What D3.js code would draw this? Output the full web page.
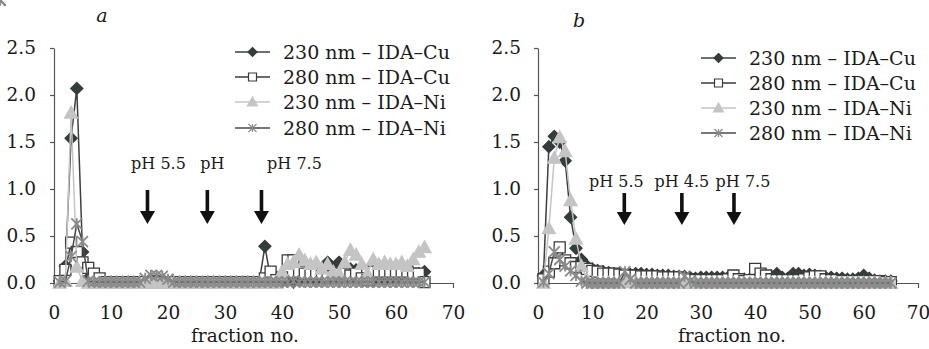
<!DOCTYPE html>
<html>
<head>
<meta charset="utf-8">
<script src="https://cdn.jsdelivr.net/npm/d3@7"></script>
<style>
  body { margin: 0; background: #fff; }
  svg text { font-family: "DejaVu Serif", serif; fill: #1a1a1a; }
</style>
</head>
<body>
<svg id="chart" width="929" height="349"></svg>
<script>
// fraction numbers 1..65 (same for both panels)
const fractions = [1,2,3,4,5,6,7,8,9,10,11,12,13,14,15,16,17,18,19,20,21,22,23,24,25,26,27,28,29,30,31,32,33,34,35,36,37,38,39,40,41,42,43,44,45,46,47,48,49,50,51,52,53,54,55,56,57,58,59,60,61,62,63,64,65];

// panel a
const aCu230 = [0.02,0.18,1.54,2.07,0.33,0.05,
  0.01,0.01,0.01,0.01,0.01,0.01,0.01,0.01,0.01,0.01,0.01,0.01,0.01,0.01,0.01,0.01,0.01,0.01,0.01,0.01,0.01,0.01,0.01,0.01,0.01,0.01,0.01,0.01,0.01,0.01,
  0.39,0.05,0.03,0.02,0.02,0.01,0.03,0.06,0.05,0.04,0.10,0.22,0.15,0.22,0.18,0.15,0.14,0.05,0.03,0.02,0.05,0.04,0.05,0.06,0.08,0.10,0.09,0.10,0.12];
const aCu280 = [0.02,0.14,0.43,0.33,0.22,0.16,0.10,0.05,
  0.01,0.01,0.01,0.01,0.01,0.01,0.01,0.01,0.01,0.01,0.01,0.01,0.01,0.01,0.01,0.01,0.01,0.01,0.01,0.01,0.01,0.01,0.01,0.01,0.01,0.01,0.01,0.01,
  0.05,0.12,0.03,0.06,0.24,0.24,0.12,0.10,0.10,0.10,0.10,0.05,0.08,0.10,0.10,0.08,0.10,0.05,0.03,0.12,0.12,0.12,0.12,0.12,0.12,0.12,0.10,0.10,0.01];
const aNi230 = [0.00,0.02,1.81,0.17,0.02,
  0,0,0,0,0,0,0,0,0,0,0,0,0,0,0,0,0,0,0,0,0,0,0,0,0,0,0,0,0,0,0,0,0,0,
  0.12,0.20,0.22,0.30,0.24,0.20,0.22,0.15,0.20,0.12,0.10,0.22,0.35,0.30,0.20,0.10,0.25,0.20,0.22,0.20,0.20,0.22,0.18,0.25,0.33,0.38];
const aNi280 = [0.01,0.02,0.28,0.63,0.44,0.02,
  0.01,0.01,0.01,0.01,0.01,0.01,0.01,0.01,0.01,
  0.05,0.08,0.08,0.07,0.04,
  0.01,0.01,0.01,0.01,0.01,0.01,0.01,0.01,0.01,0.01,0.01,0.01,0.01,0.01,0.01,0.01,0.01,0.01,0.01,0.01,0.01,0.02,0.01,0.01,0.01,
  0.01,0.01,0.01,0.01,0.01,0.01,0.01,0.01,0.01,0.01,0.01,0.01,0.01,0.01,0.01,0.01,0.01,0.01,0.01,0.01,0.01,0.01,0.01,0.01,0.01];

// panel b
const bCu230 = [0.08,1.45,1.56,1.50,1.30,0.70,0.37,0.25,0.18,0.15,0.13,0.12,0.11,0.10,0.10,0.09,0.09,0.10,0.10,0.09,
  0.09,0.08,0.08,0.08,0.07,0.07,0.07,0.06,0.05,0.06,0.06,0.06,0.06,0.06,0.06,0.05,0.04,0.04,0.04,0.05,
  0.06,0.05,0.07,0.10,0.06,0.05,0.10,0.10,0.08,0.09,0.08,0.07,0.06,0.06,0.05,0.05,0.04,0.04,0.05,0.08,
  0.05,0.03,0.02,0.02,0.02];
const bCu280 = [0.04,0.12,0.21,0.38,0.24,0.21,0.17,0.17,0.15,0.13,0.12,0.10,0.10,0.10,0.09,0.08,0.08,0.08,0.07,0.07,
  0.07,0.07,0.06,0.06,0.06,0.06,0.05,0.04,0.03,0.03,0.03,0.03,0.03,0.03,0.04,0.08,0.04,0.02,0.03,0.15,
  0.10,0.08,0.04,0.03,0.03,0.03,0.03,0.03,0.04,0.06,0.07,0.07,0.04,0.03,0.03,0.02,0.02,0.02,0.02,0.02,
  0.02,0.02,0.02,0.01,0.01];
const bNi230 = [0.00,0.58,1.33,1.55,1.40,0.88,0.47,0.18,0.04,0,0,0,0,0,0,0.02,0.01,0,0,0,
  0,0,0,0,0,0,0,0,0,0,0,0,0,0,0,0,0,0,0,0,
  0,0,0,0,0,0,0,0,0,0,0,0,0,0,0,0,0,0,0,0,
  0,0,0,0,0];
const bNi280 = [0.01,0.10,0.33,0.25,0.18,0.13,0.08,0.02,0,0,0,0,0,0,0,0.12,0.04,0,0,0,
  0,0,0,0,0,0,0.07,0.02,0,0,0,0,0,0,0,0,0,0,0,0,
  0,0,0,0,0,0,0,0,0,0,0,0,0,0,0,0,0,0,0,0,
  0,0,0,0,0];

const seriesNames = ['230 nm \u2013 IDA\u2013Cu', '280 nm \u2013 IDA\u2013Cu', '230 nm \u2013 IDA\u2013Ni', '280 nm \u2013 IDA\u2013Ni'];
const yTicks = [0, 0.5, 1.0, 1.5, 2.0, 2.5];
const xTicks = [0, 10, 20, 30, 40, 50, 60, 70];

// pH change markers (fraction no.)
const phLabelsA = ['pH 5.5', 'pH', 'pH 7.5'];
const phAtA = [16.4, 26.9, 36.4];
const phLabelsB = ['pH 5.5', 'pH 4.5', 'pH 7.5'];
const phAtB = [15.9, 26.5, 36.1];

const svg = d3.select('#chart');

const styles = [
  { marker: 'diamond', fill: '#333d3b', stroke: '#333d3b', line: '#3a403f', size: 12 },
  { marker: 'square', fill: '#fff', stroke: '#3a3a3a', line: '#3a3a3a', size: 11 },
  { marker: 'triangle', fill: '#c4c4c4', stroke: '#c4c4c4', line: '#c4c4c4', size: 13 },
  { marker: 'star', fill: 'none', stroke: '#8a8a8a', line: '#4a4a4a', size: 11 }
];

function markerPath(type, s) {
  const h = s / 2;
  if (type === 'diamond') return `M0,${-h}L${h},0L0,${h}L${-h},0Z`;
  if (type === 'square') return `M${-h},${-h}H${h}V${h}H${-h}Z`;
  if (type === 'triangle') return `M0,${-h}L${h},${h * 0.8}L${-h},${h * 0.8}Z`;
  return `M${-h},${-h}L${h},${h}M${-h},${h}L${h},${-h}M0,${-h}V${h}`;
}

function drawPanel(cfg) {
  const x = d3.scaleLinear().domain([0, 70]).range(cfg.xRange);
  const y = d3.scaleLinear().domain([0, 2.5]).range([283, 48]);
  const g = svg.append('g');

  // axes
  const ya = g.append('g')
    .attr('transform', `translate(${cfg.xRange[0]},0)`)
    .call(d3.axisLeft(y).tickValues(yTicks).tickFormat(d3.format('.1f')).tickSize(4).tickSizeOuter(0).tickPadding(cfg.yPad));
  const xa = g.append('g')
    .attr('transform', 'translate(0,283)')
    .call(d3.axisBottom(x).tickValues(xTicks).tickFormat(d3.format('d')).tickSize(5).tickSizeOuter(0).tickPadding(18));
  [ya, xa].forEach(a => {
    a.selectAll('path, line').attr('stroke', '#555').attr('stroke-width', 1.2);
    a.selectAll('text').style('font-size', '18.5px').attr('fill', '#1a1a1a');
  });

  // series
  const line = d3.line().x((d, i) => x(fractions[i])).y(d => y(d));
  cfg.series.forEach((vals, k) => {
    const st = styles[k];
    g.append('path').datum(vals)
      .attr('d', line).attr('fill', 'none')
      .attr('stroke', st.line).attr('stroke-width', 1.5);
    g.append('g').selectAll('path').data(vals).join('path')
      .attr('transform', (d, i) => `translate(${x(fractions[i])},${y(d)})`)
      .attr('d', markerPath(st.marker, st.size))
      .attr('fill', st.fill).attr('stroke', st.stroke)
      .attr('stroke-width', st.marker === 'star' ? 1.8 : 1.3);
  });

  // pH arrows
  cfg.phAt.forEach((p, i) => {
    const ax = x(p);
    g.append('rect').attr('x', ax - 1.8).attr('y', cfg.arrowTop).attr('width', 3.6).attr('height', cfg.arrowBottom - cfg.arrowTop - 10).attr('fill', '#111');
    g.append('path')
      .attr('d', `M${ax - 7.5},${cfg.arrowBottom - 13}L${ax + 7.5},${cfg.arrowBottom - 13}L${ax},${cfg.arrowBottom}Z`)
      .attr('fill', '#111');
    g.append('text').attr('x', ax + cfg.phDx[i]).attr('y', cfg.phY)
      .attr('text-anchor', 'middle').style('font-size', '16px')
      .text(cfg.phLabels[i]);
  });

  // legend
  seriesNames.forEach((name, k) => {
    const st = styles[k];
    const ly = cfg.legendY[k];
    const lx = cfg.legendX;
    g.append('line').attr('x1', lx).attr('x2', lx + 35).attr('y1', ly).attr('y2', ly)
      .attr('stroke', st.line).attr('stroke-width', 1.5);
    g.append('path').attr('transform', `translate(${lx + 17.5},${ly})`)
      .attr('d', markerPath(st.marker, st.size - 3))
      .attr('fill', st.fill).attr('stroke', st.stroke).attr('stroke-width', 1.2);
    g.append('text').attr('x', lx + 48).attr('y', ly + 7)
      .style('font-size', '19px').text(name);
  });

  // axis title and panel label
  g.append('text').attr('x', cfg.titleX).attr('y', 342).attr('text-anchor', 'middle')
    .style('font-size', '18.5px').text('fraction no.');
  g.append('text').attr('x', cfg.tagX).attr('y', cfg.tagY).attr('text-anchor', 'middle')
    .style('font-size', '19px').style('font-style', 'italic').text(cfg.tag);
}

drawPanel({
  xRange: [54, 453], yPad: 14,
  series: [aCu230, aCu280, aNi230, aNi280],
  phAt: phAtA, phLabels: phLabelsA, phDx: [11, 5, 33], phY: 169, arrowTop: 190, arrowBottom: 224,
  legendX: 235, legendY: [52, 77, 102, 128],
  titleX: 245, tagX: 102, tagY: 22, tag: 'a'
});
drawPanel({
  xRange: [538, 918], yPad: 13,
  series: [bCu230, bCu280, bNi230, bNi280],
  phAt: phAtB, phLabels: phLabelsB, phDx: [-8, 0, 9], phY: 187, arrowTop: 193, arrowBottom: 225,
  legendX: 701, legendY: [58, 83, 108, 133],
  titleX: 732, tagX: 579, tagY: 27, tag: 'b'
});
</script>
</body>
</html>
